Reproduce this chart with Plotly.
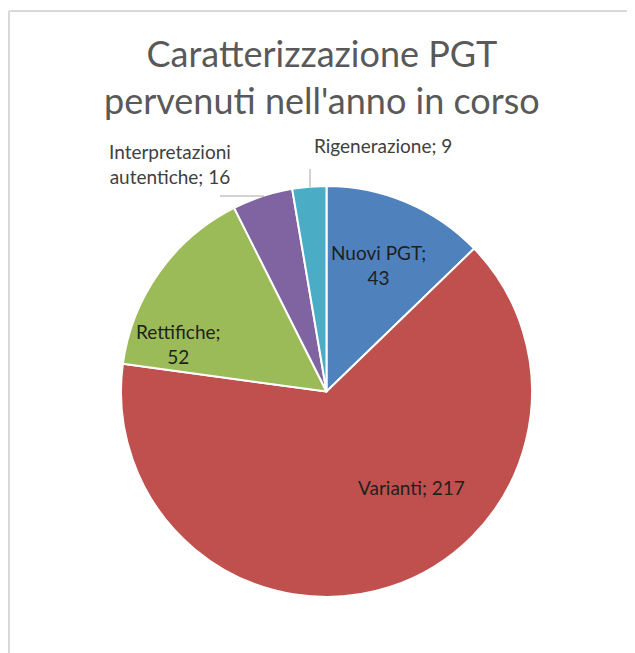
import plotly.graph_objects as go

# Caratterizzazione PGT
categorie = ['Nuovi PGT', 'Varianti', 'Rettifiche', 'Interpretazioni autentiche', 'Rigenerazione']
valori = [43, 217, 52, 16, 9]
colori = ['#4F81BD', '#C0504D', '#9BBB59', '#8064A2', '#4BACC6']

W, H = 635, 653
OFF = 8  # margine del body html


def px_x(x):
    return (x - OFF) / W


def px_y(y):
    return 1 - (y - OFF) / H


fig = go.Figure(go.Pie(
    labels=categorie, values=valori, sort=False, direction='clockwise', rotation=0,
    marker=dict(colors=colori, line=dict(color='white', width=2)),
    textinfo='none', hoverinfo='label+value', showlegend=False,
    domain=dict(x=[px_x(121), px_x(532)], y=[px_y(598), px_y(185)])
))

font = 'Lato, Open Sans, sans-serif'

# etichette dati (stile Excel)
etichette = [
    (f'{categorie[0]};<br>{valori[0]}', 378, 265, '#1f1f1f'),
    (f'{categorie[1]}; {valori[1]}', 411, 487, '#1f1f1f'),
    (f'{categorie[2]};<br>{valori[2]}', 178, 344, '#1f1f1f'),
    (f'Interpretazioni<br>autentiche; {valori[3]}', 170, 164, '#404040'),
    (f'{categorie[4]}; {valori[4]}', 383, 145, '#404040'),
]
annots = [dict(text=t, x=px_x(x), y=px_y(y), xref='paper', yref='paper', showarrow=False,
               xanchor='center', yanchor='middle',
               font=dict(family=font, size=19, color=c), align='center')
          for t, x, y, c in etichette]

annots.append(dict(text='Caratterizzazione PGT<br>pervenuti nell\'anno in corso',
                   x=px_x(322), y=px_y(77), xref='paper', yref='paper', showarrow=False,
                   xanchor='center', yanchor='middle',
                   font=dict(family=font, size=36, color='#595959'), align='center'))

linee = [
    (px_x(9), px_y(11), 1, px_y(11), '#d9d9d9', 2),
    (px_x(9), px_y(11), px_x(9), 0, '#d9d9d9', 2),
    (px_x(220), px_y(196), px_x(264), px_y(196), '#a6a6a6', 1),
    (px_x(310), px_y(169), px_x(310), px_y(187), '#a6a6a6', 1),
]
shapes = [dict(type='line', xref='paper', yref='paper', x0=a, y0=b, x1=c, y1=d,
               line=dict(color=col, width=w)) for a, b, c, d, col, w in linee]

fig.update_layout(width=W, height=H, margin=dict(l=0, r=0, t=0, b=0),
                  paper_bgcolor='white', plot_bgcolor='white',
                  annotations=annots, shapes=shapes)

fig.write_html('out.html')
